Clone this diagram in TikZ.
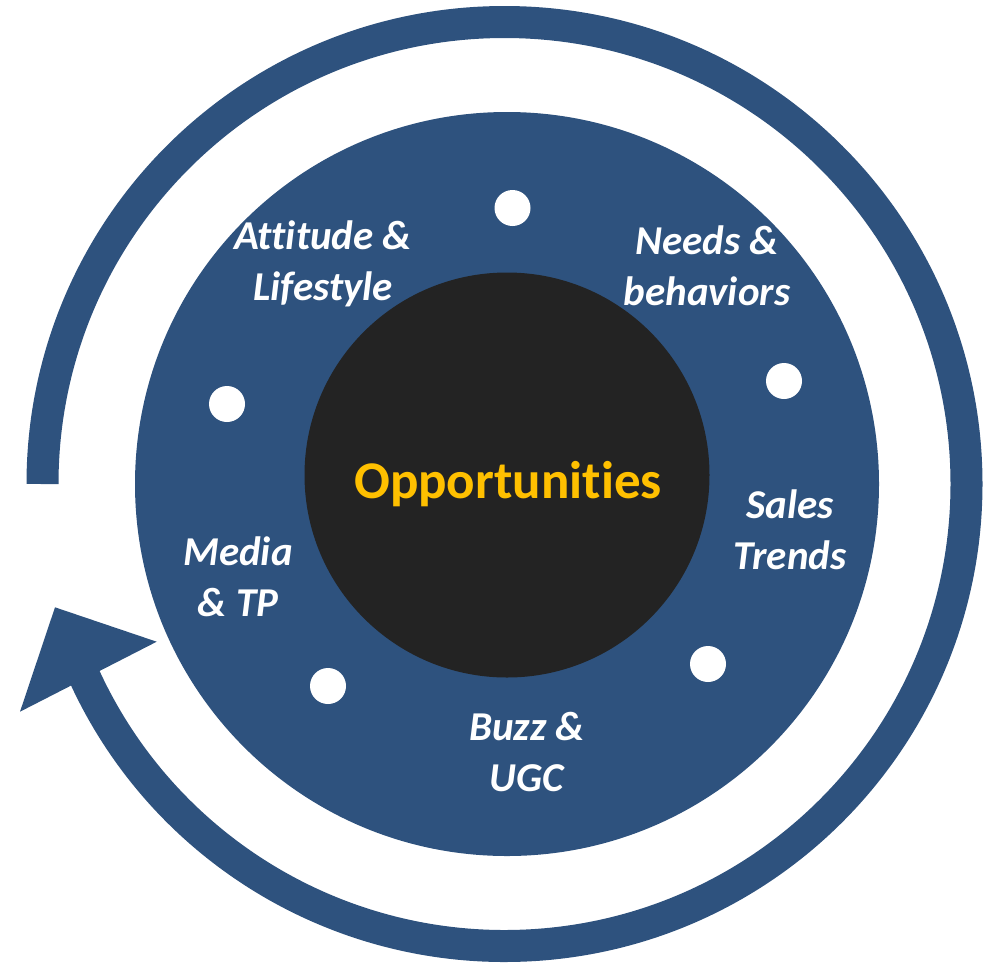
\documentclass[tikz,border=0pt]{standalone}
\usepackage{fontspec}
\setmainfont[RawFeature={-liga}]{Carlito}
\definecolor{ringblue}{RGB}{46,82,126}
\definecolor{coredark}{RGB}{35,35,35}
\definecolor{oppyellow}{RGB}{255,192,0}
\tikzset{
  ringline/.style={draw=ringblue, line width=32pt, line cap=butt},
  dotnode/.style={circle, fill=white, draw=none, minimum size=36pt, inner sep=0pt},
  lbl/.style={text=white, font=\fontsize{41}{51}\selectfont\bfseries\itshape, align=center, inner sep=0pt},
}
\begin{document}
\begin{tikzpicture}[x=1pt,y=-1pt]
\useasboundingbox (0,0) rectangle (984,962);
% outer circular arrow
\coordinate (rc) at (504.5,484);
\draw[ringline] (rc) ++(180:462) arc[start angle=180, end angle=516, radius=462];
\fill[ringblue] (55,607.3) -- (156.7,641.7) -- (20,711.7) -- cycle;
% main disc
\node[circle, fill=ringblue, minimum size=744pt, inner sep=0pt] (disc) at (507,484) {};
\node[circle, fill=coredark, minimum size=405pt, inner sep=0pt] (core) at (507,475) {};
\node[text=oppyellow, font=\fontsize{53}{60}\selectfont\bfseries, inner sep=0pt] (opp) at (508,484) {Opportunities};
% dots
\node[dotnode] (d1) at (512.5,208) {};
\node[dotnode] (d2) at (784,381) {};
\node[dotnode] (d3) at (708,664) {};
\node[dotnode] (d4) at (328,686) {};
\node[dotnode] (d5) at (227,404) {};
% labels
\node[lbl] (att) at (323,264) {Attitude \&\\Lifestyle};
\node[lbl] (need) at (707,266) {Needs \&\\behaviors};
\node[lbl] (sales) at (790,530) {Sales\\Trends};
\node[lbl] (buzz) at (527,752) {Buzz \&\\UGC};
\node[lbl] (media) at (238,577) {Media\\\& TP};
\end{tikzpicture}
\end{document}
